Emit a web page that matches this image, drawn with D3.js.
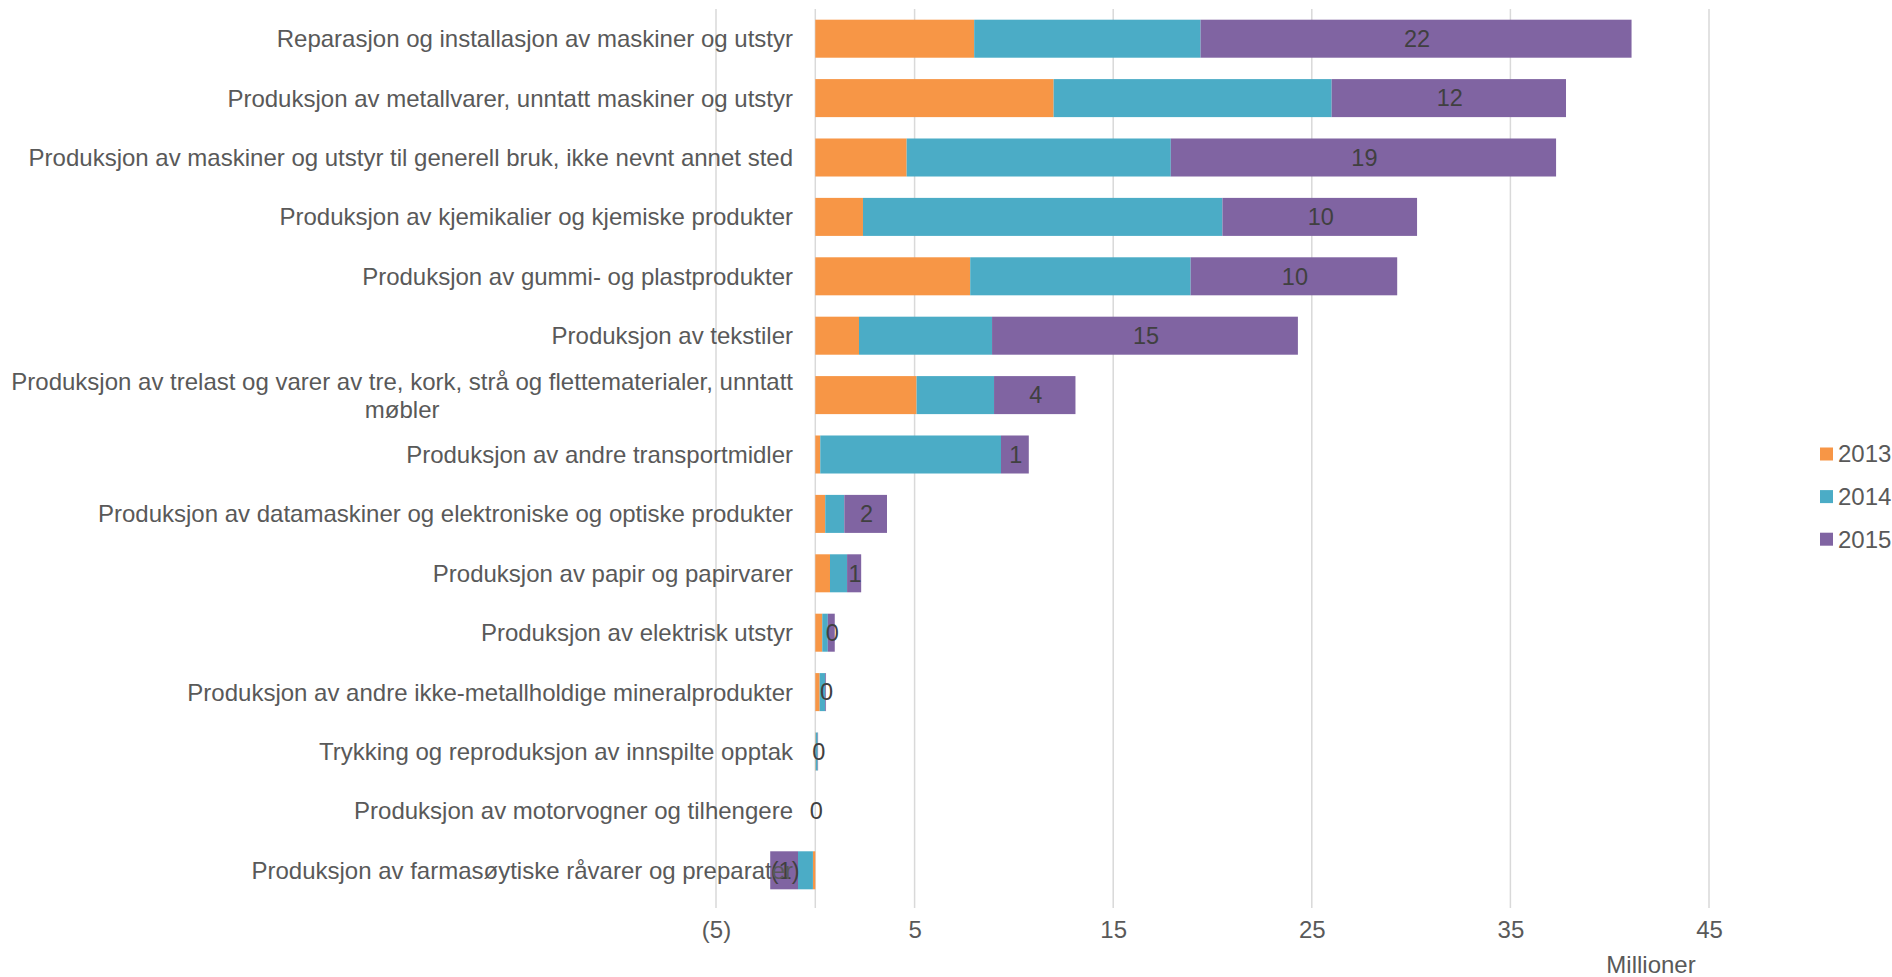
<!DOCTYPE html>
<html>
<head>
<meta charset="utf-8">
<script src="https://cdn.jsdelivr.net/npm/d3@7"></script>
<style>
  body { margin: 0; background: #fff; }
  text { font-family: "Liberation Sans", Arial, sans-serif; }
</style>
</head>
<body>
<div id="chart"></div>
<script>
var width = 1892;
var height = 977;

// categories (top to bottom)
var categories = [
  "Reparasjon og installasjon av maskiner og utstyr",
  "Produksjon av metallvarer, unntatt maskiner og utstyr",
  "Produksjon av maskiner og utstyr til generell bruk, ikke nevnt annet sted",
  "Produksjon av kjemikalier og kjemiske produkter",
  "Produksjon av gummi- og plastprodukter",
  "Produksjon av tekstiler",
  "Produksjon av trelast og varer av tre, kork, strå og flettematerialer, unntatt møbler",
  "Produksjon av andre transportmidler",
  "Produksjon av datamaskiner og elektroniske og optiske produkter",
  "Produksjon av papir og papirvarer",
  "Produksjon av elektrisk utstyr",
  "Produksjon av andre ikke-metallholdige mineralprodukter",
  "Trykking og reproduksjon av innspilte opptak",
  "Produksjon av motorvogner og tilhengere",
  "Produksjon av farmasøytiske råvarer og preparater"
];

// values in millions
var v2013 = [8.0, 12.0, 4.6, 2.4, 7.8, 2.2, 5.1, 0.25, 0.5, 0.74, 0.35, 0.22, 0.02, 0, -0.12];
var v2014 = [11.4, 14.0, 13.3, 18.1, 11.1, 6.7, 3.9, 9.1, 0.96, 0.86, 0.28, 0.28, 0.1, 0, -0.75];
var v2015 = [21.7, 11.8, 19.4, 9.8, 10.4, 15.4, 4.1, 1.4, 2.15, 0.71, 0.35, 0.04, 0.02, 0, -1.4];

var seriesNames = ["2013", "2014", "2015"];
var colors = ["#F79646", "#4BACC6", "#8064A2"];

var tickValues = [-5, 5, 15, 25, 35, 45];
var axisTitle = "Millioner";

var rows = categories.map(function(c, i) {
  return {cat: c, "2013": v2013[i], "2014": v2014[i], "2015": v2015[i]};
});

var svg = d3.select("#chart").append("svg")
  .attr("width", width)
  .attr("height", height);

var x = d3.scaleLinear().domain([-5, 45]).range([716, 1709]);
var y = d3.scaleBand().domain(categories).range([9, 900])
  .paddingInner(0.36).paddingOuter(0.18);

function fmt(v) {
  var r = Math.round(Math.abs(v));
  return v < -0.5 ? "(" + r + ")" : String(r);
}

// gridlines (incl. the zero line)
var gridVals = [-5, 0, 5, 15, 25, 35, 45];
svg.append("g").selectAll("line")
  .data(gridVals)
  .enter().append("line")
  .attr("x1", function(d) { return x(d); })
  .attr("x2", function(d) { return x(d); })
  .attr("y1", 9)
  .attr("y2", 908)
  .attr("stroke", "#D9D9D9")
  .attr("stroke-width", 1.5);

// stacked bars
var stack = d3.stack().keys(seriesNames).offset(d3.stackOffsetDiverging);
var layers = stack(rows);

svg.append("g").selectAll("g")
  .data(layers)
  .enter().append("g")
  .attr("fill", function(d, i) { return colors[i]; })
  .selectAll("rect")
  .data(function(d) { return d; })
  .enter().append("rect")
  .attr("x", function(d) { return x(Math.min(d[0], d[1])); })
  .attr("width", function(d) { return Math.abs(x(d[1]) - x(d[0])); })
  .attr("y", function(d) { return y(d.data.cat); })
  .attr("height", y.bandwidth());

// data labels on the 2015 segment
var last = layers[2];
svg.append("g").selectAll("text")
  .data(last)
  .enter().append("text")
  .attr("x", function(d) { return x((d[0] + d[1]) / 2) + 1; })
  .attr("y", function(d) { return y(d.data.cat) + y.bandwidth() / 2; })
  .attr("dy", "0.35em")
  .attr("text-anchor", "middle")
  .attr("font-size", 23.5)
  .attr("fill", "#404040")
  .text(function(d) { return fmt(d.data["2015"]); });

// x axis labels
var xAxis = d3.axisBottom(x).tickValues(tickValues).tickSize(0).tickFormat(fmt);
var gx = svg.append("g")
  .attr("transform", "translate(0,918)")
  .call(xAxis);
gx.select(".domain").remove();
gx.selectAll("text")
  .attr("font-size", 24)
  .attr("font-family", "Liberation Sans, Arial, sans-serif")
  .attr("fill", "#595959");

svg.append("text")
  .attr("x", 1651)
  .attr("y", 965)
  .attr("dy", "0.35em")
  .attr("text-anchor", "middle")
  .attr("font-size", 24)
  .attr("fill", "#595959")
  .text(axisTitle);

// category labels, wrapped when too wide
var labelRight = 793;
var maxW = 785;
var catG = svg.append("g");
categories.forEach(function(c) {
  var t = catG.append("text")
    .attr("font-size", 24)
    .attr("fill", "#595959")
    .attr("text-anchor", "middle");
  var words = c.split(" ");
  var lines = [];
  var line = [];
  var probe = t.append("tspan");
  words.forEach(function(w) {
    line.push(w);
    probe.text(line.join(" "));
    if (probe.node().getComputedTextLength() > maxW && line.length > 1) {
      line.pop();
      lines.push(line.join(" "));
      line = [w];
    }
  });
  lines.push(line.join(" "));
  var widest = 0;
  lines.forEach(function(l) {
    probe.text(l);
    widest = Math.max(widest, probe.node().getComputedTextLength());
  });
  probe.remove();
  var cx = labelRight - widest / 2;
  var cy = y(c) + y.bandwidth() / 2;
  var lh = 28;
  lines.forEach(function(l, i) {
    t.append("tspan")
      .attr("x", cx)
      .attr("y", cy + (i - (lines.length - 1) / 2) * lh)
      .attr("dy", "0.35em")
      .text(l);
  });
});

// legend
var legend = svg.append("g");
seriesNames.forEach(function(s, i) {
  var ly = 454 + i * 42.6;
  legend.append("rect")
    .attr("x", 1820).attr("y", ly - 6.5)
    .attr("width", 13).attr("height", 13)
    .attr("fill", colors[i]);
  legend.append("text")
    .attr("x", 1838).attr("y", ly)
    .attr("dy", "0.35em")
    .attr("font-size", 24)
    .attr("fill", "#595959")
    .text(s);
});
</script>
</body>
</html>
